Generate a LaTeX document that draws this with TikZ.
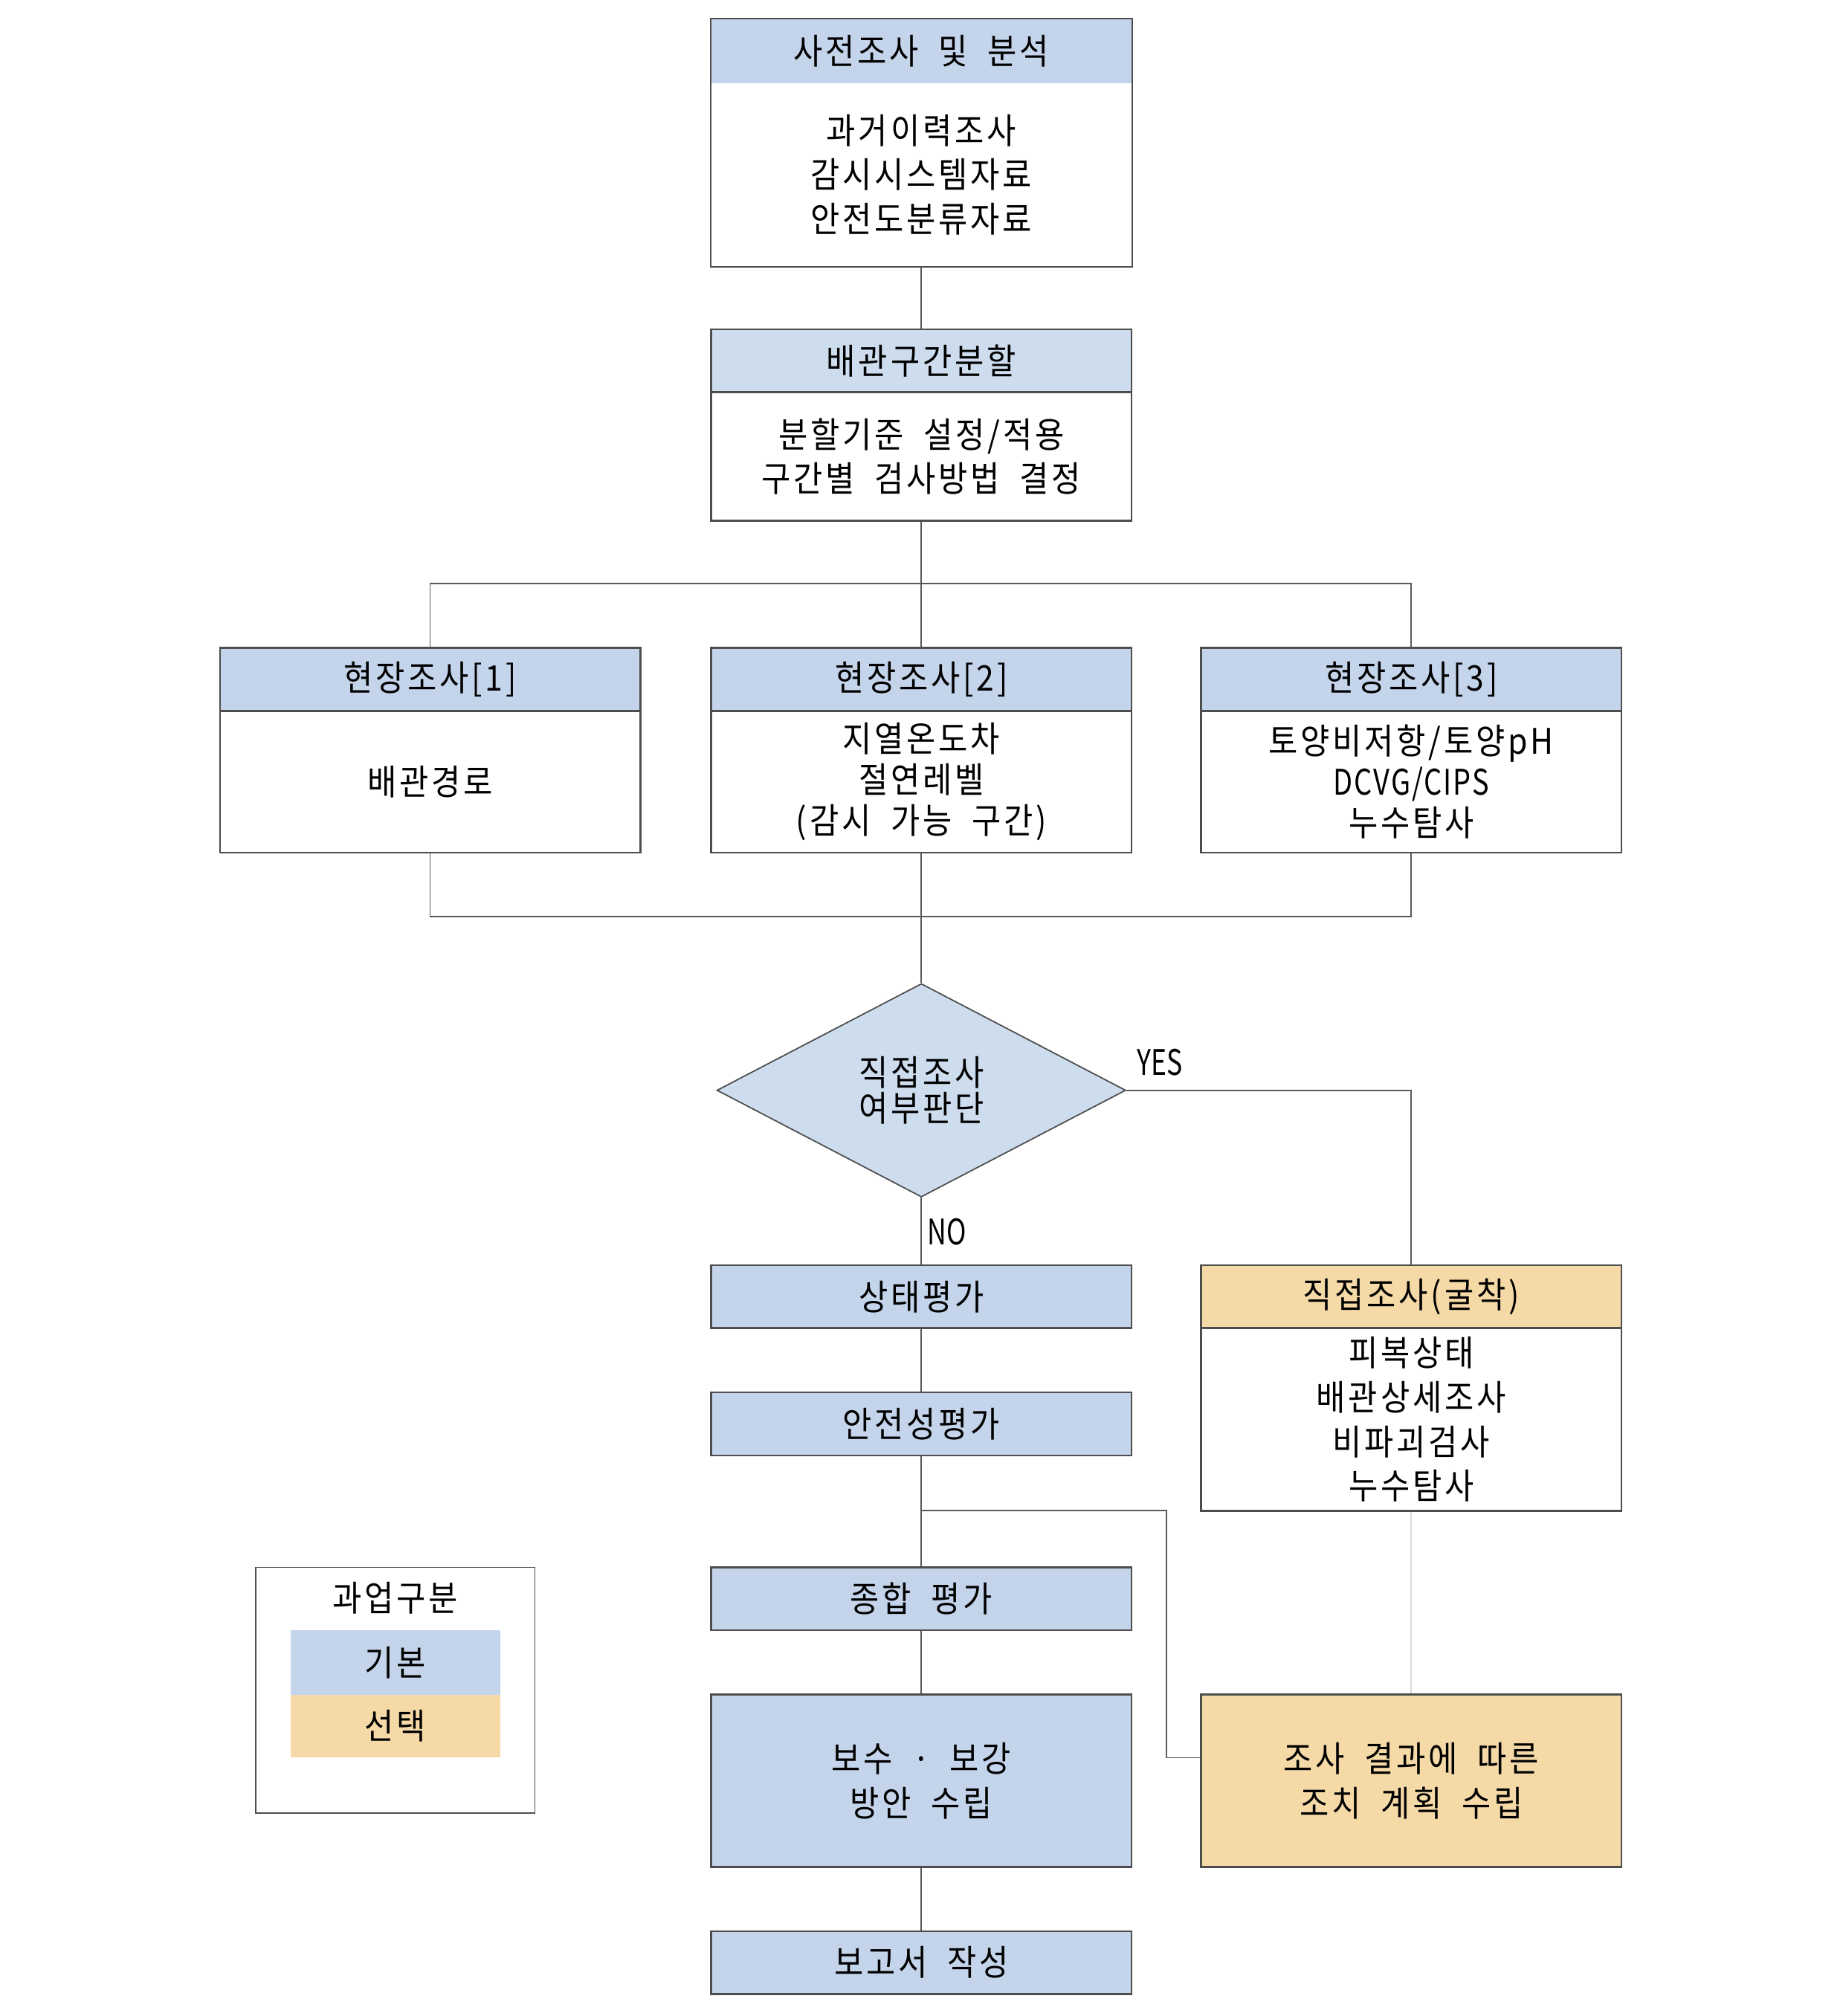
\documentclass[tikz,border=0pt]{standalone}
\usepackage{fontspec}
\setmainfont{Noto Sans CJK KR}[FakeStretch=0.9, WordSpace=2.0, LetterSpace=8]
\newfontfamily\latn{Noto Sans CJK KR}[FakeStretch=0.75]
\newfontfamily\latnb{Noto Sans CJK KR}[FakeStretch=0.8, LetterSpace=4]
\usetikzlibrary{shapes.geometric}
\newcommand\pu{0.0172994cm}
\definecolor{hblue}{HTML}{C4D5EB}
\definecolor{lblue}{HTML}{CDDDEE}
\definecolor{orng}{HTML}{F5DAA7}
\definecolor{bord}{HTML}{4D4D4D}
\definecolor{conncol}{HTML}{5A5A5A}
\definecolor{lightcol}{HTML}{DADADA}
\begin{document}
\begin{tikzpicture}[x=0.0172994cm, y=-0.0172994cm,
  txt/.style={font=\fontsize{13.5}{17}\selectfont, align=center, inner sep=0pt},
  bx/.style={txt, rectangle, minimum width={327*\pu}, draw=bord, line width=0.7pt},
  hb/.style={bx, fill=hblue, minimum height={49*\pu}},
  ho/.style={bx, fill=orng, minimum height={49*\pu}},
  conn/.style={draw=conncol, line width=0.5pt},
  lightconn/.style={draw=lightcol, line width=0.5pt}]
\fill[white] (0,0) rectangle (1433,1568);
\useasboundingbox (0,0) rectangle (1433,1568);

% top box
\node[txt, fill=hblue, minimum width={327*\pu}, minimum height={50*\pu}] (h1) at (716.5,40) {사전조사 및 분석};
\node[txt, minimum width={327*\pu}, minimum height={142*\pu}] (b1) at (716.5,136) {과거이력조사\\감시시스템자료\\안전도분류자료};
\draw[draw=bord, line width=0.7pt] (h1.north west) rectangle (b1.south east);

% section split
\node[hb, fill=lblue] (h2) at (716.5,280.5) {배관구간분할};
\node[bx, minimum height={100*\pu}] (b2) at (716.5,355) {분할기준 설정/적용\\구간별 검사방법 결정};

% field surveys
\node[hb] (f1h) at (334.5,528.5) {현장조사[1]};
\node[bx, minimum height={110*\pu}] (f1b) at (334.5,608) {배관경로};
\node[hb] (f2h) at (716.5,528.5) {현장조사[2]};
\node[bx, minimum height={110*\pu}, font=\fontsize{13.5}{15.6}\selectfont] (f2b) at (716.5,608) {지열온도차\\절연레벨\\(감시 가능 구간)};
\node[hb] (f3h) at (1097.5,528.5) {현장조사[3]};
\node[bx, minimum height={110*\pu}, font=\fontsize{13.5}{15.6}\selectfont] (f3b) at (1097.5,608) {토양비저항/토양pH\\{\latnb DCVG/CIPS}\\누수탐사};

% decision
\node[txt, diamond, draw=bord, line width=0.5pt, fill=lblue, minimum width={318*\pu}, minimum height={166*\pu}, font=\fontsize{13.5}{13.8}\selectfont] (d) at (716.5,848) {직접조사\\여부판단};
\node[txt, anchor=west, font=\fontsize{13.5}{17}\latn] (yes) at (884,826) {YES};
\node[txt, anchor=west, font=\fontsize{13.5}{17}\latn] (no) at (721,958) {NO};

% main chain
\node[hb] (s1) at (716.5,1008.5) {상태평가};
\node[hb] (s2) at (716.5,1107.5) {안전성평가};
\node[hb] (s3) at (716.5,1243.5) {종합 평가};
\node[hb, minimum height={134*\pu}] (s4) at (716.5,1385) {보수 · 보강\\방안 수립};
\node[hb] (s5) at (716.5,1526.5) {보고서 작성};

% direct survey
\node[ho] (dh) at (1097.5,1008.5) {직접조사(굴착)};
\node[bx, minimum height={142*\pu}] (db) at (1097.5,1104) {피복상태\\배관상세조사\\비파괴검사\\누수탐사};
\node[ho, minimum height={134*\pu}] (r) at (1097.5,1385) {조사 결과에 따른\\조치 계획 수립};

% legend
\node[draw=bord, line width=0.5pt, minimum width={217*\pu}, minimum height={191*\pu}, inner sep=0pt] (lg) at (307.5,1314.5) {};
\node[txt] (lgt) at (307.5,1243) {과업구분};
\node[txt, fill=hblue, minimum width={163*\pu}, minimum height={50*\pu}] (lb) at (307.5,1293) {기본};
\node[txt, fill=orng, minimum width={163*\pu}, minimum height={49*\pu}] (lo) at (307.5,1342.5) {선택};

% connectors
\coordinate (sp) at (716.5,454);
\coordinate (mg) at (716.5,713);
\coordinate (j1) at (716.5,1175);
\coordinate (j2) at (907,1175);
\draw[conn] (b1.south) -- (h2.north);
\draw[conn] (b2.south) -- (sp);
\draw[conn] (f1h.north) -- (f1h.north |- sp) -- (f3h.north |- sp) -- (f3h.north);
\draw[conn] (sp) -- (f2h.north);
\draw[conn] (f1b.south) -- (f1b.south |- mg) -- (f3b.south |- mg) -- (f3b.south);
\draw[conn] (f2b.south) -- (d.north);
\draw[conn] (d.east) -| (dh.north);
\draw[conn] (d.south) -- (s1.north);
\draw[conn] (s1.south) -- (s2.north);
\draw[conn] (s2.south) -- (s3.north);
\draw[conn] (s3.south) -- (s4.north);
\draw[conn] (s4.south) -- (s5.north);
\draw[conn] (j1) -- (j2) |- ([yshift={18*\pu}]r.west);
\draw[lightconn] (db.south) -- (r.north);
\end{tikzpicture}
\end{document}
